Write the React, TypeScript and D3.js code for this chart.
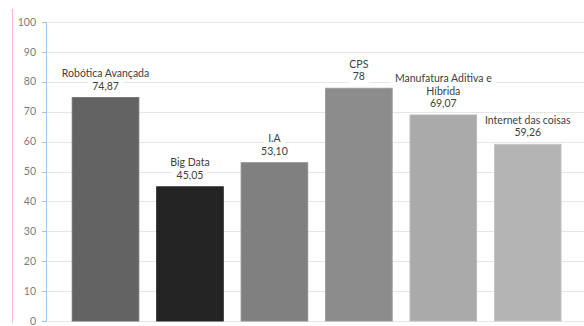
import React, { useEffect, useRef } from "react";
import * as d3 from "d3";

const categories: string[][] = [
  ["Robótica Avançada"],
  ["Big Data"],
  ["I.A"],
  ["CPS"],
  ["Manufatura Aditiva e", "Híbrida"],
  ["Internet das coisas"],
];
const values: number[] = [74.87, 45.05, 53.1, 78, 69.07, 59.26];
const valueLabels: string[] = ["74,87", "45,05", "53,10", "78", "69,07", "59,26"];
const barColors: string[] = ["#636363", "#242424", "#808080", "#8c8c8c", "#aaaaaa", "#b4b4b4"];
const yTicks: number[] = [0, 10, 20, 30, 40, 50, 60, 70, 80, 90, 100];

const W = 584;
const H = 326;
const FONT = "Lato, 'Open Sans', sans-serif";

export default function App() {
  const ref = useRef<SVGSVGElement>(null);
  useEffect(() => {
    const svg = d3.select(ref.current);
    svg.selectAll("*").remove();

    const y = d3.scaleLinear().domain([0, 100]).range([321, 22]);
    const x = d3
      .scaleBand<number>()
      .domain(values.map((_, i) => i))
      .range([63.3, 570])
      .paddingInner(0.2)
      .paddingOuter(0.1);

    svg.append("rect").attr("width", W).attr("height", H).attr("fill", "#ffffff");

    // pink left line
    svg
      .append("line")
      .attr("x1", 12.5)
      .attr("x2", 12.5)
      .attr("y1", 9)
      .attr("y2", 323)
      .attr("stroke", "#f7b6e8")
      .attr("stroke-width", 1);

    // gridlines
    svg
      .append("g")
      .selectAll("line")
      .data(yTicks)
      .join("line")
      .attr("x1", 46)
      .attr("x2", W)
      .attr("y1", (d) => Math.round(y(d)) + 0.5)
      .attr("y2", (d) => Math.round(y(d)) + 0.5)
      .attr("stroke", "#e6e6e6")
      .attr("stroke-width", 1);

    // bars
    svg
      .append("g")
      .selectAll("rect")
      .data(values)
      .join("rect")
      .attr("x", (_, i) => x(i)! + 0.5)
      .attr("y", (d) => y(d) + 0.5)
      .attr("width", x.bandwidth() - 1)
      .attr("height", (d) => y(0) - y(d) - 0.5)
      .attr("fill", (_, i) => barColors[i])
      .attr("stroke", (_, i) => d3.color(barColors[i])!.brighter(0.25).formatHex())
      .attr("stroke-width", 1);

    // y axis
    const axis = svg.append("g");
    axis
      .append("line")
      .attr("x1", 46.5)
      .attr("x2", 46.5)
      .attr("y1", y(100))
      .attr("y2", y(0) + 0.5)
      .attr("stroke", "#9cc6ec");
    axis
      .selectAll("line.tick")
      .data(yTicks)
      .join("line")
      .attr("class", "tick")
      .attr("x1", 42)
      .attr("x2", 46)
      .attr("y1", (d) => Math.round(y(d)) + 0.5)
      .attr("y2", (d) => Math.round(y(d)) + 0.5)
      .attr("stroke", "#9cc6ec");
    axis
      .selectAll("text")
      .data(yTicks)
      .join("text")
      .attr("x", 36)
      .attr("y", (d) => y(d))
      .attr("dy", "0.35em")
      .attr("text-anchor", "end")
      .attr("font-family", FONT)
      .attr("font-size", 10.5)
      .attr("fill", "#7a7a7a")
      .text((d) => String(d));

    // labels
    const lh = 12.5;
    values.forEach((v, i) => {
      const lines = [...categories[i], valueLabels[i]];
      const cx = x(i)! + x.bandwidth() / 2;
      const top = y(v);
      const g = svg.append("g");
      lines.forEach((t, j) => {
        const cy = top - 11 - (lines.length - 1 - j) * lh;
        const rect = g.append("rect").attr("fill", "#ffffff");
        const txt = g
          .append("text")
          .attr("x", cx)
          .attr("y", cy)
          .attr("dy", "0.35em")
          .attr("text-anchor", "middle")
          .attr("font-family", FONT)
          .attr("font-size", 10.5)
          .attr("fill", "#404040")
          .text(t);
        const w = (txt.node() as SVGTextElement).getComputedTextLength();
        rect
          .attr("x", cx - w / 2 - 4)
          .attr("y", cy - lh / 2)
          .attr("width", w + 8)
          .attr("height", lh);
      });
    });
  }, []);

  return (
    <svg
      ref={ref}
      width={W}
      height={H}
      style={{ position: "absolute", left: 0, top: 0, display: "block" }}
    />
  );
}
